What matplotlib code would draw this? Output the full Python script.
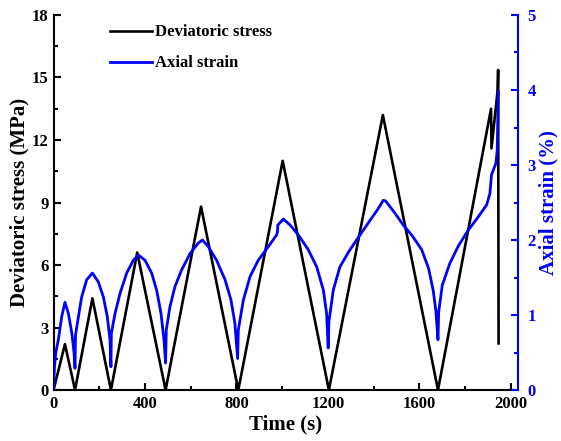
import matplotlib
matplotlib.use("Agg")
import matplotlib.pyplot as plt
from matplotlib.ticker import MultipleLocator

# deviatoric stress (MPa) vs time (s)
stress_t = [0, 50, 94, 170, 251, 366, 490, 645, 808, 1002, 1204, 1440, 1681,
            1913, 1915, 1942, 1944, 1946]
stress = [0, 2.2, 0, 4.4, 0, 6.6, 0, 8.8, 0, 11.0, 0, 13.2, 0,
          13.5, 11.6, 14.4, 15.36, 2.24]

# axial strain (%) vs time (s)
strain_t = [0, 4, 10, 21, 36, 50, 65, 80, 90, 94,
            96, 109, 123, 145, 170, 196, 218, 235, 247, 251,
            253, 269, 291, 320, 349, 371, 400, 429, 451, 470, 483, 490,
            493, 509, 531, 560, 597, 633, 651, 677, 713, 750, 776, 793, 805,
            808, 830, 859, 895, 939, 976, 979, 981, 1005, 1034, 1070, 1114, 1151, 1180, 1194, 1201,
            1204, 1215, 1223, 1252, 1290, 1325, 1370, 1420, 1442, 1452, 1490, 1529, 1570, 1610,
            1640, 1660, 1672, 1681,
            1684, 1700, 1733, 1770, 1813, 1855, 1894, 1908, 1915, 1934, 1940, 1945]
strain = [0, 0.3, 0.5, 0.67, 0.98, 1.17, 1.02, 0.76, 0.49, 0.29,
          0.73, 0.98, 1.24, 1.47, 1.56, 1.44, 1.24, 0.98, 0.67, 0.31,
          0.76, 1.02, 1.29, 1.56, 1.73, 1.8, 1.73, 1.56, 1.33, 1.02, 0.67, 0.36,
          0.8, 1.11, 1.38, 1.6, 1.82, 1.96, 2.0, 1.91, 1.73, 1.47, 1.2, 0.89, 0.42,
          0.8, 1.2, 1.51, 1.73, 1.91, 2.07, 2.11, 2.2, 2.28, 2.2, 2.07, 1.87, 1.64, 1.33, 1.02, 0.56,
          0.91, 1.15, 1.33, 1.64, 1.84, 2.0, 2.2, 2.42, 2.53, 2.52, 2.37, 2.2, 2.05, 1.87,
          1.62, 1.33, 1.05, 0.67,
          1.04, 1.4, 1.69, 1.92, 2.13, 2.3, 2.47, 2.62, 2.87, 3.02, 3.2, 3.98]

plt.rcParams['font.family'] = ['Liberation Serif', 'DejaVu Serif']
plt.rcParams['font.weight'] = 'bold'

fig = plt.figure(figsize=(5.61, 4.41), dpi=100)
ax = fig.add_axes([0.0954, 0.1156, 0.8276, 0.8504])
ax2 = ax.twinx()

l1, = ax.plot(stress_t, stress, color='black', lw=1.9, label='Deviatoric stress')
l2, = ax2.plot(strain_t, strain, color='blue', lw=2.0, label='Axial strain')

ax.set_xlim(0, 2030)
ax.set_ylim(0, 18)
ax2.set_ylim(0, 5)

ax.xaxis.set_major_locator(MultipleLocator(400))
ax.xaxis.set_minor_locator(MultipleLocator(200))
ax.yaxis.set_major_locator(MultipleLocator(3))
ax.yaxis.set_minor_locator(MultipleLocator(1.5))
ax2.yaxis.set_major_locator(MultipleLocator(1))
ax2.yaxis.set_minor_locator(MultipleLocator(0.5))

for a in (ax, ax2):
    a.spines['top'].set_visible(False)
    for s in a.spines.values():
        s.set_linewidth(1.5)
ax.spines['right'].set_visible(False)
ax2.spines['left'].set_visible(False)
ax2.spines['bottom'].set_visible(False)
ax2.spines['right'].set_color('blue')

ax.tick_params(which='both', direction='in', width=1.5, labelsize=12, top=False, right=False)
ax.tick_params(which='major', length=5)
ax.tick_params(which='minor', length=3)
ax.tick_params(axis='x', pad=4)
ax2.tick_params(which='both', direction='in', width=1.5, colors='blue', labelsize=12, pad=7)
ax2.tick_params(which='major', length=5)
ax2.tick_params(which='minor', length=3)
for lab in ax.get_xticklabels() + ax.get_yticklabels() + ax2.get_yticklabels():
    lab.set_fontweight('bold')

ax.set_xlabel('Time (s)', fontsize=15, fontweight='bold', labelpad=2)
ax.set_ylabel('Deviatoric stress (MPa)', fontsize=15, fontweight='bold', labelpad=2)
ax2.set_ylabel('Axial strain (%)', fontsize=15, fontweight='bold', color='blue', labelpad=2)

ax.legend(handles=[l1, l2], loc='upper left', bbox_to_anchor=(0.09, 1.015), frameon=False,
          prop={'weight': 'bold', 'size': 12}, handlelength=2.5, handletextpad=0.2,
          labelspacing=0.9)

fig.savefig('out.png', dpi=100)
